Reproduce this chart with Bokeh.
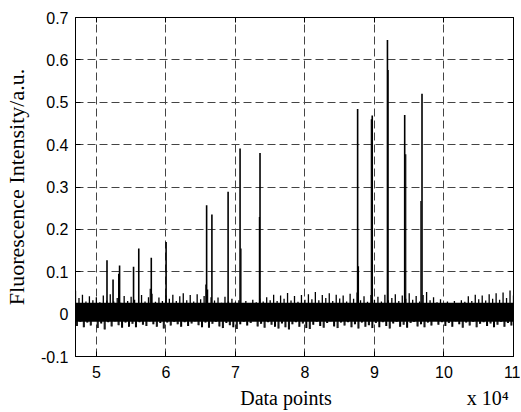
import numpy as np
from bokeh.plotting import figure
from bokeh.models import Range1d, LinearAxis, FixedTicker
from bokeh.embed import file_html
from bokeh.resources import INLINE

# ---- data -------------------------------------------------------------
bin_start = 47000
bin_step = 500
noise_core_hi = 0.027
noise_core_lo = -0.018
noise_hi = [0.055, 0.038, 0.046, 0.030, 0.042, 0.033, 0.040,
            0.028, 0.044, 0.032, 0.047, 0.030, 0.038, 0.027, 0.043, 0.031, 0.041,
            0.034, 0.026, 0.045, 0.030, 0.040, 0.048, 0.029, 0.039, 0.031, 0.044,
            0.036, 0.046, 0.031, 0.042, 0.049, 0.033, 0.045, 0.030, 0.047, 0.035,
            0.043, 0.058, 0.040, 0.032, 0.039, 0.027, 0.041, 0.030, 0.036, 0.028,
            0.033, 0.026, 0.031, 0.024, 0.034, 0.028, 0.037, 0.030, 0.040, 0.033,
            0.046, 0.031, 0.044, 0.036, 0.050, 0.032, 0.043, 0.029, 0.045, 0.034,
            0.047, 0.035, 0.052, 0.033, 0.045, 0.038, 0.049, 0.031, 0.046, 0.037,
            0.044, 0.030, 0.048, 0.036, 0.051, 0.033, 0.042, 0.029, 0.045, 0.034,
            0.041, 0.030, 0.046, 0.033, 0.038, 0.047, 0.031, 0.044, 0.036, 0.049,
            0.034, 0.043, 0.030, 0.045, 0.052, 0.033, 0.040, 0.028, 0.035, 0.026,
            0.030, 0.024, 0.031, 0.026, 0.033, 0.029, 0.042, 0.031, 0.046, 0.035,
            0.044, 0.032, 0.047, 0.036, 0.049, 0.034, 0.051, 0.038, 0.056, 0.044]
noise_lo = [-0.028, -0.018, -0.031, -0.020, -0.027, -0.016, -0.033,
            -0.022, -0.036, -0.019, -0.029, -0.017, -0.026, -0.032, -0.020, -0.030, -0.023,
            -0.031, -0.019, -0.025, -0.028, -0.017, -0.024, -0.030, -0.021, -0.034, -0.020,
            -0.027, -0.018, -0.024, -0.030, -0.019, -0.028, -0.022, -0.017, -0.026, -0.031,
            -0.020, -0.032, -0.023, -0.018, -0.029, -0.033, -0.021, -0.026, -0.031, -0.035,
            -0.024, -0.018, -0.027, -0.021, -0.016, -0.029, -0.023, -0.032, -0.019, -0.025,
            -0.030, -0.034, -0.022, -0.031, -0.036, -0.024, -0.019, -0.030, -0.022, -0.033,
            -0.035, -0.025, -0.018, -0.028, -0.032, -0.021, -0.017, -0.029, -0.033, -0.020,
            -0.027, -0.019, -0.031, -0.024, -0.034, -0.020, -0.030, -0.026, -0.033, -0.021,
            -0.031, -0.019, -0.028, -0.034, -0.022, -0.018, -0.030, -0.025, -0.032, -0.021,
            -0.018, -0.029, -0.024, -0.031, -0.020, -0.027, -0.016, -0.025, -0.019, -0.028,
            -0.021, -0.030, -0.017, -0.024, -0.032, -0.020, -0.027, -0.018, -0.031, -0.023,
            -0.019, -0.028, -0.022, -0.031, -0.025, -0.018, -0.030, -0.021, -0.027, -0.032]

peak_x = [51530, 52400, 53340, 55350, 56100, 57900, 60030, 65860, 66620,
          68950, 70670, 73540, 87580, 89680, 91870, 94350, 96840]
peak_h = [0.127, 0.082, 0.115, 0.112, 0.155, 0.133, 0.170, 0.257, 0.235,
          0.289, 0.391, 0.380, 0.484, 0.469, 0.647, 0.470, 0.520]
shoulder_x = [53200, 57750, 65750, 70800, 73450, 87700, 89550, 91970, 94500, 96680]
shoulder_h = [0.095, 0.060, 0.070, 0.155, 0.229, 0.113, 0.460, 0.576, 0.377, 0.267]

x_ticks = [50000, 60000, 70000, 80000, 90000, 100000, 110000]
x_tick_labels = ["5", "6", "7", "8", "9", "10", "11"]
y_ticks = [-0.1, 0, 0.1, 0.2, 0.3, 0.4, 0.5, 0.6, 0.7]
y_tick_labels = ["-0.1", "0", "0.1", "0.2", "0.3", "0.4", "0.5", "0.6", "0.7"]
x_title = "Data points"
x_scale_note = "x 10\u2074"

# ---- figure -----------------------------------------------------------
p = figure(width=520, height=411, output_backend="svg", toolbar_location=None,
           x_range=Range1d(47000, 110000), y_range=Range1d(-0.1, 0.7),
           min_border_left=75, min_border_right=7, min_border_top=17,
           min_border_bottom=54)
p.outline_line_color = "black"
p.outline_line_width = 1
p.background_fill_color = "white"
p.border_fill_color = "white"

# noise band: solid core plus up/down spikes
bx = bin_start + bin_step * np.arange(len(noise_hi))
n = len(bx)
p.varea(x=[bx[0], bx[-1] + bin_step], y1=[noise_core_lo] * 2, y2=[noise_core_hi] * 2,
        fill_color="black")
p.segment(x0=bx, y0=[0] * n, x1=bx, y1=noise_hi, line_color="black", line_width=1.3)
p.segment(x0=bx + bin_step / 2, y0=[0] * n, x1=bx + bin_step / 2, y1=noise_lo,
          line_color="black", line_width=1.3)
p.segment(x0=bx + bin_step / 4, y0=[0] * n, x1=bx + bin_step / 4, y1=noise_lo,
          line_color="black", line_width=1)

p.segment(x0=peak_x, y0=[0] * len(peak_x), x1=peak_x, y1=peak_h,
          line_color="black", line_width=1.6)
p.segment(x0=shoulder_x, y0=[0] * len(shoulder_x), x1=shoulder_x, y1=shoulder_h,
          line_color="black", line_width=1.2)

# grid
for g in (p.xgrid, p.ygrid):
    g.grid_line_color = "#444444"
    g.grid_line_dash = "8 4"
    g.grid_line_width = 1
p.xgrid.ticker = FixedTicker(ticks=x_ticks)
p.ygrid.ticker = FixedTicker(ticks=y_ticks)

def style(ax):
    ax.major_tick_in = 5
    ax.major_tick_out = 0
    ax.minor_tick_line_color = None
    ax.axis_line_color = "black"
    ax.major_tick_line_color = "black"
    ax.major_label_text_font = "Liberation Sans"
    ax.major_label_text_font_size = "16px"
    ax.major_label_text_color = "black"
    ax.axis_label_text_color = "black"

NB = "\u00a0"
xa_ = p.xaxis[0]
xa_.ticker = FixedTicker(ticks=x_ticks)
xa_.major_label_overrides = dict(zip(x_ticks, x_tick_labels))
style(xa_)
xa_.major_label_standoff = 9
xa_.axis_label = NB * 32 + x_title + NB * 27 + x_scale_note
xa_.axis_label_text_font = "Liberation Serif"
xa_.axis_label_text_font_style = "normal"
xa_.axis_label_text_font_size = "20px"
xa_.axis_label_standoff = 6

ya_ = p.yaxis[0]
ya_.ticker = FixedTicker(ticks=y_ticks)
ya_.major_label_overrides = dict(zip(y_ticks, y_tick_labels))
style(ya_)
ya_.major_label_standoff = 7
ya_.axis_label = "Fluorescence Intensity/a.u."
ya_.axis_label_text_font = "Liberation Serif"
ya_.axis_label_text_font_style = "normal"
ya_.axis_label_text_font_size = "22px"
ya_.axis_label_standoff = 9

rax = LinearAxis(ticker=FixedTicker(ticks=y_ticks))
style(rax)
rax.major_label_overrides = {t: "" for t in y_ticks}
rax.major_label_standoff = 0
p.add_layout(rax, "right")
tax = LinearAxis(ticker=FixedTicker(ticks=x_ticks))
style(tax)
tax.major_label_overrides = {t: "" for t in x_ticks}
tax.major_label_standoff = 0
p.add_layout(tax, "above")

open("out.html", "w").write(file_html(p, INLINE))
